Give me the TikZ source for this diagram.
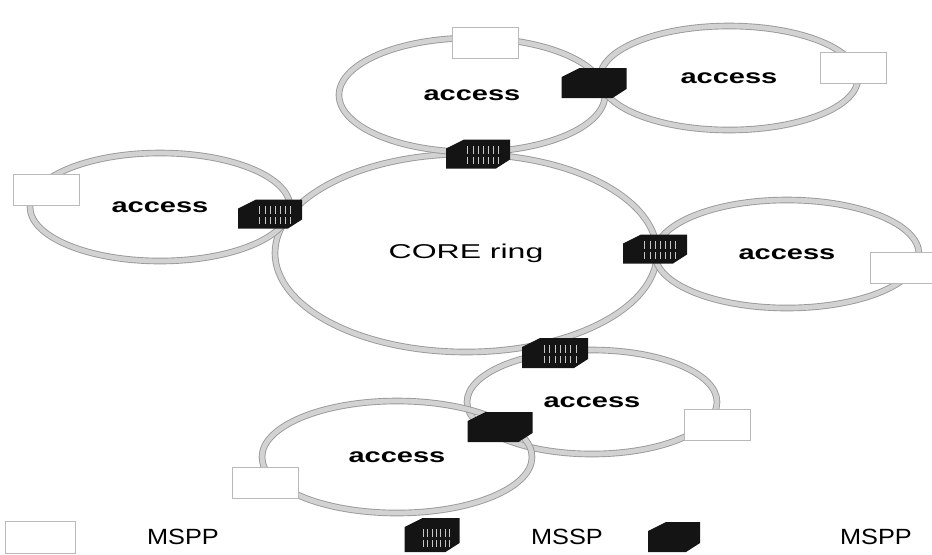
\documentclass[tikz,border=0pt]{standalone}
\usepackage{fontspec}
\setmainfont{Liberation Sans}
\usepackage{graphicx}
\usetikzlibrary{shapes.geometric, positioning, calc}

% black box with two cut corners
\newcommand{\chamferfill}{%
  \fill[black!92] ([xshift=9pt]path picture bounding box.north west)
    -- (path picture bounding box.north east)
    -- ([yshift=4.5pt]path picture bounding box.south east)
    -- ([xshift=-7pt]path picture bounding box.south east)
    -- (path picture bounding box.south west)
    -- ([yshift=-4.5pt]path picture bounding box.north west) -- cycle;}
% light streaks of the MSSP front
\newcommand{\mssptexture}{%
  \foreach \f in {0.34,0.42,0.5,0.58,0.66,0.74,0.82}{
    \draw[gray!45, line width=0.35pt]
      ($(path picture bounding box.south west)!\f!(path picture bounding box.south east)+(0,2.5pt)$)
      -- ++(0,3.5pt) ++(0,1.5pt) -- ++(0,4pt);}}

\begin{document}
\begin{tikzpicture}[x=0.5pt, y=-0.5pt,
    ring/.style={ellipse, draw=gray!80, line width=0.45pt, double=gray!35,
                 double distance=2.4pt, inner sep=0pt,
                 font=\fontsize{10}{12}\selectfont\bfseries},
    mspp/.style={rectangle, draw=gray!55, fill=white, line width=0.5pt,
                 minimum width=33pt, minimum height=15.5pt, inner sep=0pt},
    mspb/.style={rectangle, minimum width=32.5pt, minimum height=15pt, inner sep=0pt,
                 path picture={\chamferfill}},
    mssp/.style={rectangle, minimum width=32pt, minimum height=14.5pt, inner sep=0pt,
                 path picture={\chamferfill\mssptexture}},
    legend/.style={font=\fontsize{11}{13}\selectfont}
]
\useasboundingbox (0,0) rectangle (932,554);

% Rings
\node[ring, minimum width=191pt, minimum height=99pt, font=\fontsize{10}{12}\selectfont]
    (core) at (466,253) {\scalebox{1.6}[1]{CORE ring}};
\node[ring, minimum width=133pt, minimum height=57pt] (acctop) at (472,95)
    {\scalebox{1.45}[1]{access}};
\node[ring, minimum width=129pt, minimum height=52pt] (acctr) at (729,78)
    {\scalebox{1.45}[1]{access}};
\node[ring, minimum width=130pt, minimum height=54pt] (accleft) at (160,207)
    {\scalebox{1.45}[1]{access}};
\node[ring, minimum width=132pt, minimum height=54pt] (accright) at (787,254)
    {\scalebox{1.45}[1]{access}};
\node[ring, minimum width=125pt, minimum height=52pt] (accbr) at (592,402)
    {\scalebox{1.45}[1]{access}};
\node[ring, minimum width=135pt, minimum height=56pt] (accbl) at (397,457)
    {\scalebox{1.45}[1]{access}};

% MSPP (white)
\node[mspp] (w1) at (485,43) {};
\node[mspp] (w2) at (853,68) {};
\node[mspp] (w3) at (46,190) {};
\node[mspp] (w4) at (903,268) {};
\node[mspp] (w5) at (717,425) {};
\node[mspp] (w6) at (265,483) {};

% MSSP
\node[mssp] (s1) at (478,154) {};
\node[mssp] (s2) at (270,214) {};
\node[mssp] (s3) at (655,249) {};
\node[mssp, minimum width=33pt, minimum height=15pt] (s4) at (555,353) {};

% MSPP (black)
\node[mspb] (b1) at (594,83) {};
\node[mspb] (b2) at (500,427) {};

% Legend
\node[mspp, minimum width=35pt, minimum height=16pt] (lw) at (40,537) {};
\node[legend] (lwt) at (183,537) {\scalebox{1.15}[1]{MSPP}};
\node[mssp, minimum width=27.5pt, minimum height=17pt] (ls) at (432,535) {};
\node[legend] (lst) at (567,537) {\scalebox{1.15}[1]{MSSP}};
\node[mspb, minimum width=26pt, minimum height=15pt] (lb) at (674,537) {};
\node[legend] (lbt) at (876,537) {\scalebox{1.15}[1]{MSPP}};
\end{tikzpicture}
\end{document}
